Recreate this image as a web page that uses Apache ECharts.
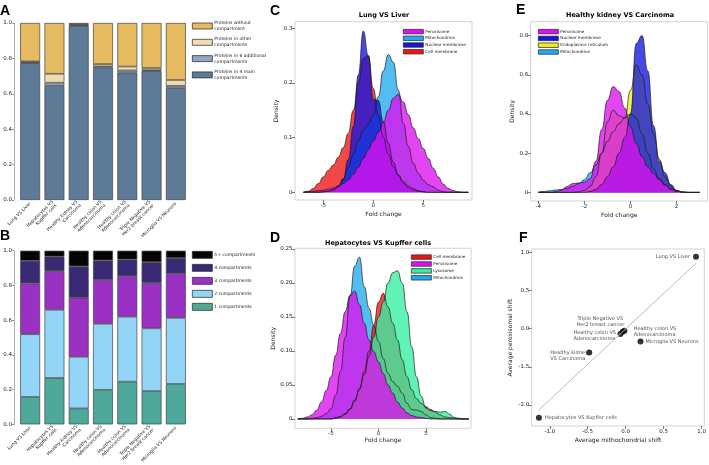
<!DOCTYPE html>
<html><head><meta charset="utf-8">
<script src="https://cdn.jsdelivr.net/npm/echarts@6/dist/echarts.min.js"></script>
<style>html,body{margin:0;padding:0;background:#fff}#c{width:709px;height:465px}</style>
</head><body><div id="c"></div>
<script>
// ---------- DATA ----------
const comparisons = ['Lung VS Liver','Hepatocytes VS\nKupffer cells','Healthy kidney VS\nCarcinoma','Healthy colon VS\nAdenocarcinoma','Healthy colon VS\nAdenocarcinoma','Triple Negative VS\nHer2 breast cancer','Microglia VS Neurons'];
// Panel A (fractions)
const aMain4   = [0.773,0.645,0.985,0.749,0.720,0.728,0.632];
const aSixAdd  = [0.005,0.018,0.003,0.006,0.012,0.006,0.013];
const aOther   = [0.005,0.050,0.006,0.013,0.022,0.012,0.033];
const aWithout = [0.217,0.287,0.006,0.232,0.246,0.254,0.322];
// Panel B (fractions)
const b1 = [0.158,0.267,0.092,0.199,0.246,0.192,0.233];
const b2 = [0.361,0.393,0.297,0.380,0.374,0.361,0.380];
const b3 = [0.293,0.222,0.340,0.252,0.233,0.261,0.254];
const b4 = [0.130,0.084,0.181,0.113,0.096,0.120,0.090];
const b5 = [0.058,0.034,0.090,0.056,0.051,0.066,0.043];
const barTicks = [0,0.2,0.4,0.6,0.8,1.0];
const barTickLabels = ['0.0','0.2','0.4','0.6','0.8','1.0'];
// Panel C densities
const cX = [-7,-6.5,-6,-5.5,-5,-4.5,-4,-3.5,-3,-2.5,-2,-1.5,-1,-0.5,0,0.5,1,1.5,2,2.5,3,3.5,4,4.5,5,5.5,6,6.5,7,7.5,8,8.5,9,9.5];
const cPerox = [0,0.001,0.002,0.003,0.004,0.006,0.008,0.011,0.016,0.023,0.033,0.046,0.062,0.078,0.094,0.11,0.128,0.15,0.172,0.179,0.165,0.142,0.118,0.098,0.08,0.062,0.044,0.028,0.015,0.007,0.003,0.001,0,0];
const cMito  = [0,0,0,0,0.001,0.002,0.004,0.01,0.022,0.045,0.07,0.095,0.112,0.125,0.14,0.175,0.222,0.252,0.238,0.187,0.126,0.084,0.053,0.035,0.022,0.014,0.01,0.004,0.001,0,0,0,0,0];
const cNuc   = [0,0,0,0,0.001,0.002,0.005,0.012,0.025,0.06,0.12,0.215,0.295,0.25,0.17,0.168,0.13,0.09,0.055,0.032,0.017,0.009,0.004,0.002,0.001,0,0,0,0,0,0,0,0,0];
const cCell  = [0,0.002,0.007,0.016,0.028,0.04,0.05,0.064,0.082,0.108,0.15,0.2,0.245,0.25,0.19,0.14,0.1,0.07,0.047,0.031,0.02,0.012,0.007,0.003,0.001,0,0,0,0,0,0,0,0,0];
const cXTicks = [-5,0,5], cXLabels = ['-5','0','5'];
const cYTicks = [0,0.1,0.2,0.3], cYLabels = ['0','0.1','0.2','0.3'];
// Panel D densities
const dX = [-8.5,-8,-7.5,-7,-6.5,-6,-5.5,-5,-4.5,-4,-3.5,-3,-2.5,-2,-1.5,-1,-0.5,0,0.5,1,1.5,2,2.5,3,3.5,4,4.5,5,5.5,6,6.5,7,7.5,8,8.5,9,9.5];
const dCell  = [0,0,0,0,0,0,0,0,0.002,0.004,0.008,0.015,0.028,0.045,0.07,0.1,0.138,0.172,0.185,0.165,0.141,0.116,0.087,0.062,0.043,0.03,0.023,0.018,0.014,0.01,0.006,0.003,0.002,0.001,0,0,0];
const dPerox = [0,0.001,0.003,0.006,0.013,0.025,0.042,0.062,0.094,0.126,0.158,0.182,0.188,0.168,0.141,0.116,0.099,0.084,0.067,0.05,0.038,0.025,0.016,0.009,0.005,0.003,0.002,0.001,0,0,0,0,0,0,0,0,0];
const dLyso  = [0,0,0,0,0,0,0,0,0.001,0.003,0.007,0.014,0.026,0.043,0.065,0.092,0.12,0.15,0.172,0.2,0.215,0.218,0.2,0.158,0.106,0.062,0.033,0.016,0.012,0.011,0.01,0.011,0.007,0.002,0.001,0,0];
const dMito  = [0,0,0,0.001,0.002,0.004,0.008,0.015,0.035,0.07,0.12,0.18,0.225,0.238,0.195,0.163,0.138,0.114,0.089,0.067,0.055,0.048,0.038,0.023,0.014,0.013,0.011,0.006,0.002,0.001,0,0,0,0,0,0,0];
const dXTicks = [-5,0,5], dXLabels = ['-5','0','5'];
const dYTicks = [0,0.05,0.1,0.15,0.2,0.25], dYLabels = ['0','0.05','0.10','0.15','0.20','0.25'];
// Panel E densities
const eX = [-4,-3.75,-3.5,-3.25,-3,-2.75,-2.5,-2.25,-2,-1.75,-1.5,-1.25,-1,-0.75,-0.5,-0.25,0,0.25,0.5,0.75,1,1.25,1.5,1.75,2,2.25,2.5,2.75,3];
const ePerox = [0,0,0,0.003,0.012,0.03,0.045,0.048,0.052,0.07,0.16,0.32,0.47,0.54,0.515,0.43,0.335,0.25,0.182,0.13,0.097,0.065,0.037,0.018,0.007,0.002,0,0,0];
const eNuc   = [0,0,0,0,0,0,0,0,0,0.005,0.015,0.04,0.08,0.13,0.2,0.28,0.4,0.76,0.8,0.62,0.34,0.16,0.1,0.04,0.01,0.002,0,0,0];
const eER    = [0,0,0,0,0,0,0,0.002,0.01,0.03,0.08,0.2,0.36,0.42,0.39,0.38,0.52,0.65,0.6,0.45,0.3,0.17,0.08,0.03,0.01,0.002,0,0,0];
const eMito  = [0.001,0.004,0.008,0.012,0.015,0.02,0.03,0.045,0.065,0.1,0.14,0.2,0.26,0.31,0.35,0.38,0.4,0.38,0.3,0.2,0.12,0.07,0.04,0.015,0.005,0.001,0,0,0];
const eXTicks = [-4,-2,0,2], eXLabels = ['-4','-2','0','2'];
const eYTicks = [0,0.2,0.4,0.6,0.8], eYLabels = ['0','0.2','0.4','0.6','0.8'];
// Panel F
const fNames = ['Lung VS Liver','Hepatocytes VS Kupffer cells','Healthy kidney\nVS Carcinoma','Microglia VS Neurons','Triple Negative VS\nHer2 breast cancer','Healthy colon VS\nAdenocarcinoma','Healthy colon VS\nAdenocarcinoma'];
const fMitoShift  = [0.926,-1.143,-0.48,0.195,-0.017,-0.069,-0.04];
const fPeroxShift = [0.943,-1.166,-0.314,-0.17,-0.026,-0.07,-0.04];
const fLineX = [-1.15,0.93], fLineY = [-1.07,0.86];
const fXTicks = [-1,-0.5,0,0.5,1], fXLabels = ['-1.0','-0.5','0.0','0.5','1.0'];
const fYTicks = [1,0.5,0,-0.5,-1], fYLabels = ['1.0','0.5','0.0','-1.5','-2.0'];

// ---------- STYLE / LAYOUT ----------
const FF = 'DejaVu Sans';
const COL = {
  'Peroxisome':'#dd11ee','Mitochondrion':'#22aaee','Nuclear membrane':'#1515dd',
  'Cell membrane':'#ee1515','Lysosome':'#33f0a0','Endoplasmic reticulum':'#eeee22'
};
const fLabelLayout = [ // [dx, dy, align] relative to point centre
  [-6,0,'right'],[6,0,'left'],[-39,3,'left'],[5,0,'left'],[-24,-8.5,'center'],[-47,1.5,'left'],[11,0,'left']
];
function lab(ticks, labels){ return v => { for (let i=0;i<ticks.length;i++) if (Math.abs(ticks[i]-v)<1e-9) return labels[i]; return ''; }; }
function frameAxis(gi, isX, min, max, ticks, labels, name, nameGap){
  return { type:'value', gridIndex:gi, min, max, name, nameLocation:'middle', nameGap,
    position: isX ? 'bottom' : 'left',
    nameTextStyle:{fontFamily:FF, fontSize:6, color:'#222'},
    axisLine:{show:false, onZero:false}, splitLine:{show:false},
    axisTick:{show:true, length:3, customValues:ticks, lineStyle:{color:'#444', width:0.7}},
    axisLabel:{customValues:ticks, formatter:lab(ticks,labels), fontFamily:FF, fontSize:5.5, color:'#222', margin:2.5} };
}
function dens(name, gi, xs, ys){
  return { type:'line', name, xAxisIndex:gi, yAxisIndex:gi, data: xs.map((x,i)=>[x,ys[i]]),
    smooth:0.5, smoothMonotone:'x', symbol:'none', showSymbol:false, silent:true,
    itemStyle:{color:COL[name]}, lineStyle:{color:'#1a1a1a', width:0.7},
    areaStyle:{color:COL[name], opacity:0.78} };
}
function bar(name, gi, data, color){
  return { type:'bar', name, xAxisIndex:gi, yAxisIndex:gi, stack:'s'+gi, data, barWidth:'82%',
    itemStyle:{color, borderColor:'#444', borderWidth:0.7} };
}
const grids = [
  {left:18, top:23, width:170, height:177},
  {left:18, top:250.7, width:170, height:177.3},
  {left:295, top:21.7, width:177, height:178.3, show:true, borderColor:'#c8c8c8', borderWidth:0.8},
  {left:295, top:248.3, width:176, height:180, show:true, borderColor:'#c8c8c8', borderWidth:0.8},
  {left:530.7, top:21.7, width:177, height:179.3, show:true, borderColor:'#c8c8c8', borderWidth:0.8},
  {left:531.7, top:249, width:175, height:177, show:true, borderColor:'#c8c8c8', borderWidth:0.8}
];
function catAxis(gi){
  return { type:'category', gridIndex:gi, data:comparisons, axisLine:{show:false}, axisTick:{show:false},
    axisLabel:{interval:0, rotate:45, fontFamily:FF, fontSize:4.5, lineHeight:5, color:'#222', margin:3} };
}
function barY(gi){
  return { type:'value', gridIndex:gi, min:0, max:1, offset:4,
    axisLine:{show:true, onZero:false, lineStyle:{color:'#999', width:0.8}}, splitLine:{show:false},
    axisTick:{show:true, length:2, customValues:barTicks, lineStyle:{color:'#999'}},
    axisLabel:{customValues:barTicks, formatter:lab(barTicks,barTickLabels), fontFamily:FF, fontSize:5.5, color:'#222', margin:2} };
}
function legend(left, top, data, gap, ih, fs, lh){
  return { left, top, orient:'vertical', data, icon:'rect', itemWidth:20, itemHeight:ih, itemGap:gap,
    selectedMode:false, padding:0,
    itemStyle:{borderColor:'#222', borderWidth:0.7},
    textStyle:{fontFamily:FF, fontSize:fs, lineHeight:lh, color:'#222', padding:[0,0,0,-3]} };
}

const fData = fNames.map((n,i)=>{
  const L = fLabelLayout[i];
  return { name:n, value:[fMitoShift[i], fPeroxShift[i]],
    label:{ show:true, formatter:'{b}', position:[L[0]+3, L[1]+3], align:L[2], verticalAlign:'middle',
      fontFamily:FF, fontSize:5, lineHeight:6, color:'#222' } };
});

const series = [
  bar('Proteins in 4 main\ncompartments',0,aMain4,'#5d7a97'),
  bar('Proteins in 6 additional\ncompartments',0,aSixAdd,'#8fa7c2'),
  bar('Proteins in other\ncompartments',0,aOther,'#f1dbb2'),
  bar('Proteins without\ncompartment',0,aWithout,'#e6bb62'),
  bar('1 compartments',1,b1,'#4fa99b'),
  bar('2 compartments',1,b2,'#92d5f7'),
  bar('3 compartments',1,b3,'#9a30c4'),
  bar('4 compartments',1,b4,'#3a2a76'),
  bar('5+ compartments',1,b5,'#050505'),
  dens('Cell membrane',2,cX,cCell),
  dens('Mitochondrion',2,cX,cMito),
  dens('Nuclear membrane',2,cX,cNuc),
  dens('Peroxisome',2,cX,cPerox),
  dens('Mitochondrion',3,dX,dMito),
  dens('Cell membrane',3,dX,dCell),
  dens('Lysosome',3,dX,dLyso),
  dens('Peroxisome',3,dX,dPerox),
  dens('Mitochondrion',4,eX,eMito),
  dens('Endoplasmic reticulum',4,eX,eER),
  dens('Nuclear membrane',4,eX,eNuc),
  dens('Peroxisome',4,eX,ePerox),
  { type:'line', xAxisIndex:5, yAxisIndex:5, data:fLineX.map((x,i)=>[x,fLineY[i]]), symbol:'none', silent:true,
    lineStyle:{color:'#bdbdbd', width:1} },
  { type:'scatter', xAxisIndex:5, yAxisIndex:5, data:fData, symbolSize:6, itemStyle:{color:'#000'}, silent:true }
];

const txt = (text, x, y, size, bold, align) => ({ type:'text', x, y,
  style:{ text, fill:'#000', font:(bold?'bold ':'')+size+'px '+(size>10?'"Liberation Sans"':FF), textAlign:align||'left', textVerticalAlign:'top' } });

const option = {
  animation:false, backgroundColor:'#fff',
  grid:grids,
  xAxis:[ catAxis(0), catAxis(1),
    frameAxis(2,true,-7.83,9.87,cXTicks,cXLabels,'Fold change',11),
    frameAxis(3,true,-8.79,9.74,dXTicks,dXLabels,'Fold change',9),
    frameAxis(4,true,-4.33,3.35,eXTicks,eXLabels,'Fold change',11),
    frameAxis(5,true,-1.238,1.035,fXTicks,fXLabels,'Average mithochondrial shift',11) ],
  yAxis:[ barY(0), barY(1),
    frameAxis(2,false,-0.014,0.312,cYTicks,cYLabels,'Density',15),
    frameAxis(3,false,-0.0137,0.251,dYTicks,dYLabels,'Density',18),
    frameAxis(4,false,-0.044,0.871,eYTicks,eYLabels,'Density',15),
    frameAxis(5,false,-1.275,1.043,fYTicks,fYLabels,'Average peroxisomal shift',18) ],
  legend:[
    legend(192,20,['Proteins without\ncompartment','Proteins in other\ncompartments','Proteins in 6 additional\ncompartments','Proteins in 4 main\ncompartments'],4.3,6,4.5,6),
    legend(192,251,['5+ compartments','4 compartments','3 compartments','2 compartments','1 compartments'],5.3,7,4.5,7),
    legend(403,29,['Peroxisome','Mitochondrion','Nuclear membrane','Cell membrane'],1.5,4.5,4.2,4.5),
    legend(411,254.5,['Cell membrane','Peroxisome','Lysosome','Mitochondrion'],1.7,4.5,4.2,4.5),
    legend(538,29,['Peroxisome','Nuclear membrane','Endoplasmic reticulum','Mitochondrion'],1.6,4.5,4.2,4.5)
  ],
  graphic:[
    txt('A',0,4,14,true), txt('B',0,229,14,true), txt('C',270,4,14,true),
    txt('D',270,231,14,true), txt('E',516,3,14,true), txt('F',519,231,14,true),
    txt('Lung VS Liver',384,12,6.5,true,'center'),
    txt('Hepatocytes VS Kupffer cells',378,240,6.5,true,'center'),
    txt('Healthy kidney VS Carcinoma',620,12,6.5,true,'center')
  ],
  series
};
echarts.init(document.getElementById('c'), null, {renderer:'canvas'}).setOption(option);
</script></body></html>
